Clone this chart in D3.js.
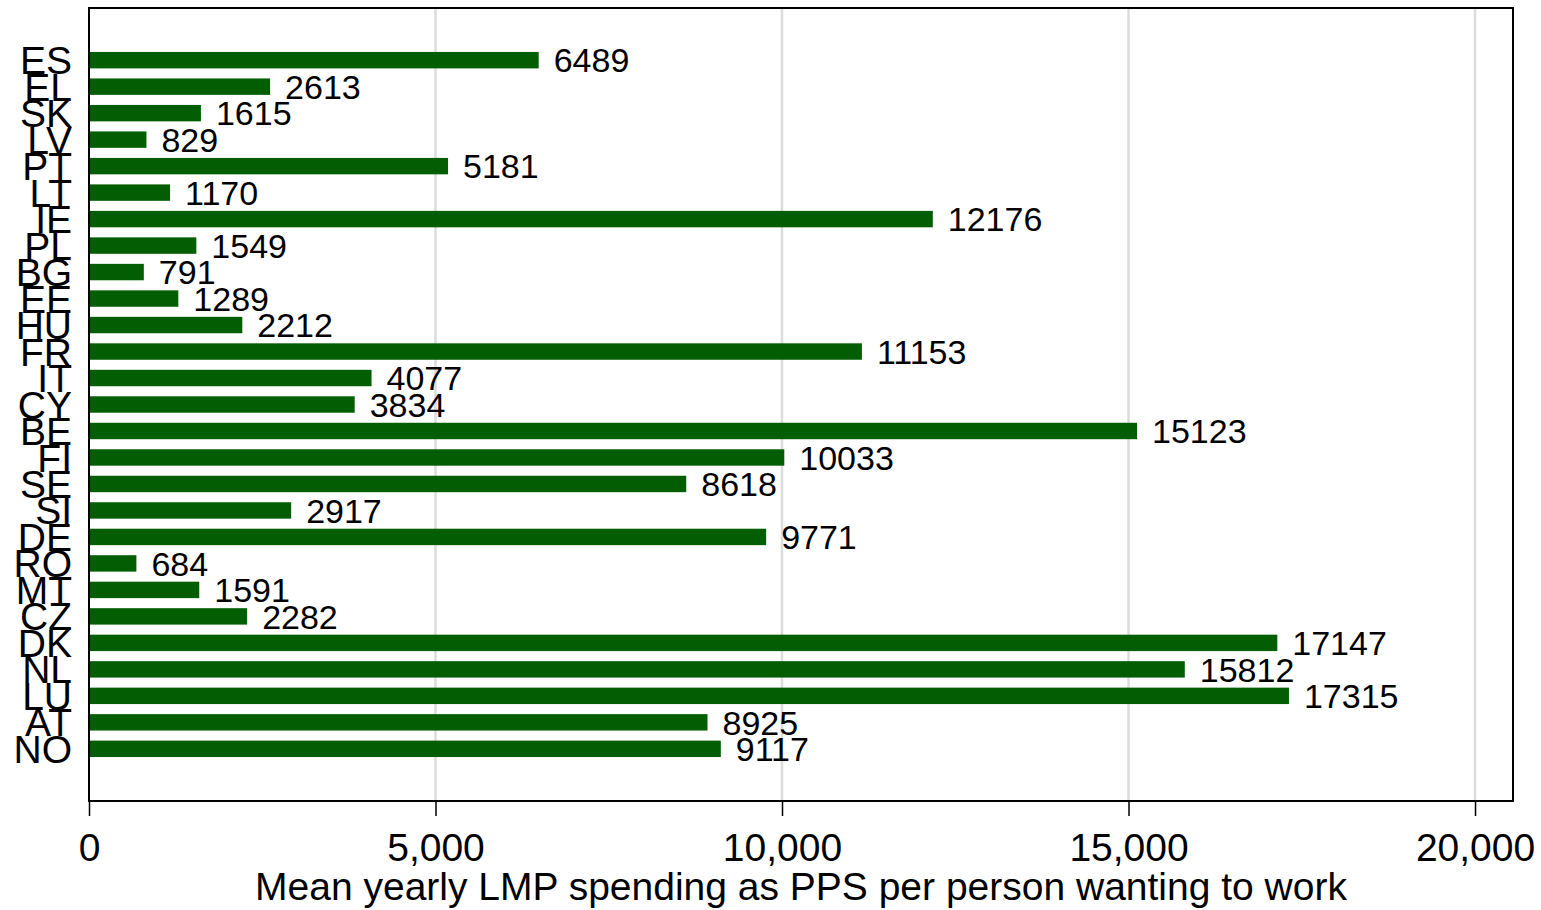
<!DOCTYPE html>
<html>
<head>
<meta charset="utf-8">
<script src="https://cdn.jsdelivr.net/npm/d3@7"></script>
<style>
  body { margin: 0; background: #fff; }
  text { font-family: "Liberation Sans", Arial, sans-serif; fill: #000; }
</style>
</head>
<body>
<div id="chart"></div>
<script>
// data, top to bottom
var countries = ["ES","EL","SK","LV","PT","LT","IE","PL","BG","EE","HU","FR","IT","CY",
                 "BE","FI","SE","SI","DE","RO","MT","CZ","DK","NL","LU","AT","NO"];
var spending = [6489,2613,1615,829,5181,1170,12176,1549,791,1289,2212,11153,4077,3834,
                15123,10033,8618,2917,9771,684,1591,2282,17147,15812,17315,8925,9117];
var xTicks = [0, 5000, 10000, 15000, 20000];
var xTitle = "Mean yearly LMP spending as PPS per person wanting to work";

var w = 1541, h = 910;
var plot = {left: 89, right: 1513, top: 8, bottom: 801};
var barColor = "#035e03";

var svg = d3.select("#chart").append("svg")
    .attr("width", w)
    .attr("height", h);

var x = d3.scaleLinear()
    .domain([0, 20548])
    .range([plot.left, plot.right]);

var y = d3.scaleBand()
    .domain(countries)
    .range([plot.top, plot.bottom])
    .paddingInner(0.38)
    .paddingOuter(1.66);

var rows = countries.map(function (c, i) { return {name: c, value: spending[i]}; });

// gridlines
svg.append("g").selectAll("line")
    .data(xTicks.filter(function (d) { return d > 0; }))
    .enter().append("line")
    .attr("x1", function (d) { return x(d); })
    .attr("x2", function (d) { return x(d); })
    .attr("y1", plot.top)
    .attr("y2", plot.bottom)
    .attr("stroke", "#dcdcdc")
    .attr("stroke-width", 2.5);

// bars
svg.append("g").selectAll("rect")
    .data(rows)
    .enter().append("rect")
    .attr("x", x(0))
    .attr("y", function (d) { return y(d.name); })
    .attr("width", function (d) { return x(d.value) - x(0); })
    .attr("height", y.bandwidth())
    .attr("fill", barColor);

// value labels
svg.append("g").selectAll("text")
    .data(rows)
    .enter().append("text")
    .attr("x", function (d) { return x(d.value) + 15; })
    .attr("y", function (d) { return y(d.name) + y.bandwidth() / 2; })
    .attr("dy", "0.36em")
    .style("font-size", "34px")
    .text(function (d) { return d.value; });

// frame
svg.append("rect")
    .attr("x", plot.left)
    .attr("y", plot.top)
    .attr("width", plot.right - plot.left)
    .attr("height", plot.bottom - plot.top)
    .attr("fill", "none")
    .attr("stroke", "#000")
    .attr("stroke-width", 2);

// y labels (country codes)
svg.append("g").selectAll("text")
    .data(countries)
    .enter().append("text")
    .attr("x", plot.left - 17)
    .attr("y", function (d) { return y(d) + y.bandwidth() / 2; })
    .attr("dy", "0.36em")
    .attr("text-anchor", "end")
    .style("font-size", "39px")
    .text(function (d) { return d; });

// x axis
var xAxis = d3.axisBottom(x)
    .tickValues(xTicks)
    .tickFormat(d3.format(","))
    .tickSize(15)
    .tickPadding(17);

var gx = svg.append("g")
    .attr("transform", "translate(0," + plot.bottom + ")")
    .call(xAxis);
gx.select(".domain").remove();
gx.selectAll(".tick line").attr("stroke", "#000").attr("stroke-width", 1.5);
gx.selectAll(".tick text")
    .style("font-size", "39px")
    .style("font-family", "'Liberation Sans', Arial, sans-serif")
    .attr("fill", "#000");

svg.append("text")
    .attr("x", (plot.left + plot.right) / 2)
    .attr("y", 900)
    .attr("text-anchor", "middle")
    .style("font-size", "39px")
    .text(xTitle);
</script>
</body>
</html>
